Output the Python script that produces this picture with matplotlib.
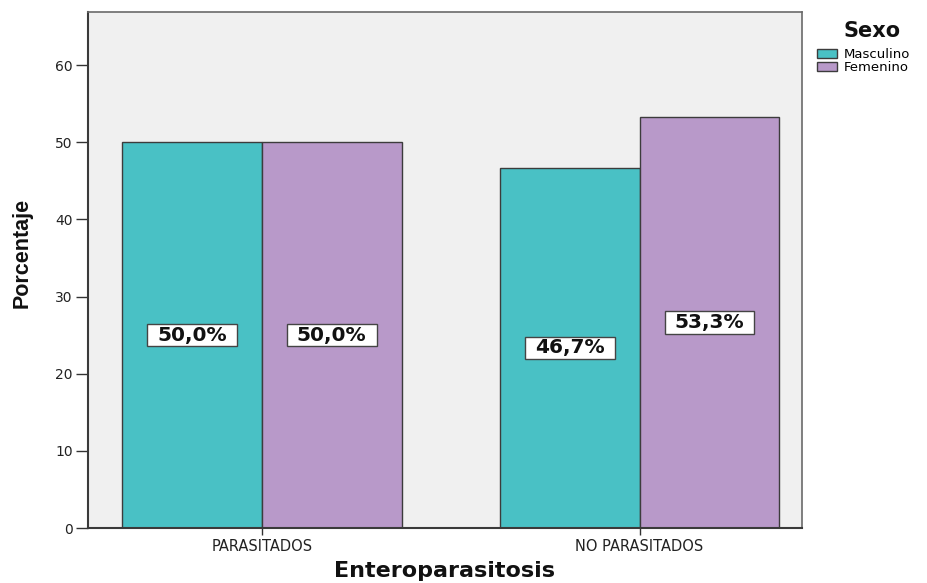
import matplotlib
matplotlib.use("Agg")
import matplotlib.pyplot as plt
from matplotlib.patches import Patch
from matplotlib.path import Path
from matplotlib import font_manager
import numpy as np

# -------------------------
# Data
# -------------------------
categories = ["PARASITADOS", "NO PARASITADOS"]
sexes = ["Masculino", "Femenino"]
masculino = [50.0, 46.7]
femenino = [50.0, 53.3]
y_ticks = [0, 10, 20, 30, 40, 50, 60]

colors = {"Masculino": "#49C1C5", "Femenino": "#B899C9"}
edge = "#3c3c3c"


def pick_font(names):
    for name in names:
        try:
            font_manager.findfont(name, fallback_to_default=False)
            return name
        except Exception:
            continue
    return "DejaVu Sans"


def wide_box(x0, y0, width, height, mutation_size):
    # rectangle with more horizontal than vertical padding
    px = 0.5 * mutation_size
    py = 0.08 * mutation_size
    x0, y0 = x0 - px, y0 - py
    x1, y1 = x0 + width + 2 * px, y0 + height + 2 * py
    return Path([(x0, y0), (x1, y0), (x1, y1), (x0, y1), (x0, y0)],
                closed=True)


narrow = pick_font(["Liberation Sans Narrow", "Liberation Sans"])

plt.rcParams["font.family"] = "DejaVu Sans"

fig = plt.figure(figsize=(9.28, 5.83), dpi=100)
ax = fig.add_axes([88 / 928, 55 / 583, 714 / 928, 516 / 583])
ax.set_facecolor("#F0F0F0")

x = np.arange(len(categories))
width = 0.37

bars_m = ax.bar(x - width / 2, masculino, width, color=colors["Masculino"],
                edgecolor=edge, linewidth=1.0, zorder=2)
bars_f = ax.bar(x + width / 2, femenino, width, color=colors["Femenino"],
                edgecolor=edge, linewidth=1.0, zorder=2)

# percentage boxes at half bar height
for bars, vals in [(bars_m, masculino), (bars_f, femenino)]:
    for b, v in zip(bars, vals):
        txt = f"{v:.1f}%".replace(".", ",")
        ax.text(b.get_x() + b.get_width() / 2, v / 2, txt,
                ha="center", va="center", fontsize=14.5, fontweight="bold",
                color="#111111", zorder=4,
                bbox=dict(boxstyle=wide_box, facecolor="white",
                          edgecolor="#444444", linewidth=1.0))

ax.set_xlim(-0.46, 1.43)
ax.set_ylim(0, 66.9)
ax.set_yticks(y_ticks)
ax.set_xticks(x)
ax.set_xticklabels(categories)

ax.tick_params(axis="y", direction="out", length=9, width=1.0, color="#333333",
               labelsize=10, labelcolor="#222222", pad=2)
ax.tick_params(axis="x", direction="out", length=5, width=1.0, color="#333333",
               labelsize=10.5, labelcolor="#222222", pad=3)

for side in ["left", "bottom"]:
    ax.spines[side].set_color("#3a3a3a")
    ax.spines[side].set_linewidth(1.5)
for side in ["top", "right"]:
    ax.spines[side].set_color("#6a6a6a")
    ax.spines[side].set_linewidth(1.2)

ax.set_xlabel("Enteroparasitosis", fontsize=16, fontweight="bold",
              color="#111111", labelpad=5)
fig.text(22 / 928, 1 - 253 / 583, "Porcentaje", rotation=90,
         ha="center", va="center", fontsize=15.5, fontweight="bold",
         family=[narrow, "DejaVu Sans"], color="#111111")

# legend: title drawn separately, entries packed tightly
fig.text(872 / 928, 1 - 31 / 583, "Sexo", ha="center", va="center",
         fontsize=15, fontweight="bold", color="#111111")
handles = [Patch(facecolor=colors[s], edgecolor=edge, linewidth=1.0) for s in sexes]
fig.legend(handles, sexes, loc="upper left",
           bbox_to_anchor=(817 / 928, 1 - 48 / 583),
           frameon=False, fontsize=9.5, handlelength=1.55,
           handleheight=0.75, handletextpad=0.5, labelspacing=0.0,
           borderpad=0.0, borderaxespad=0.0)

fig.savefig("out.png", dpi=100, facecolor="white")
